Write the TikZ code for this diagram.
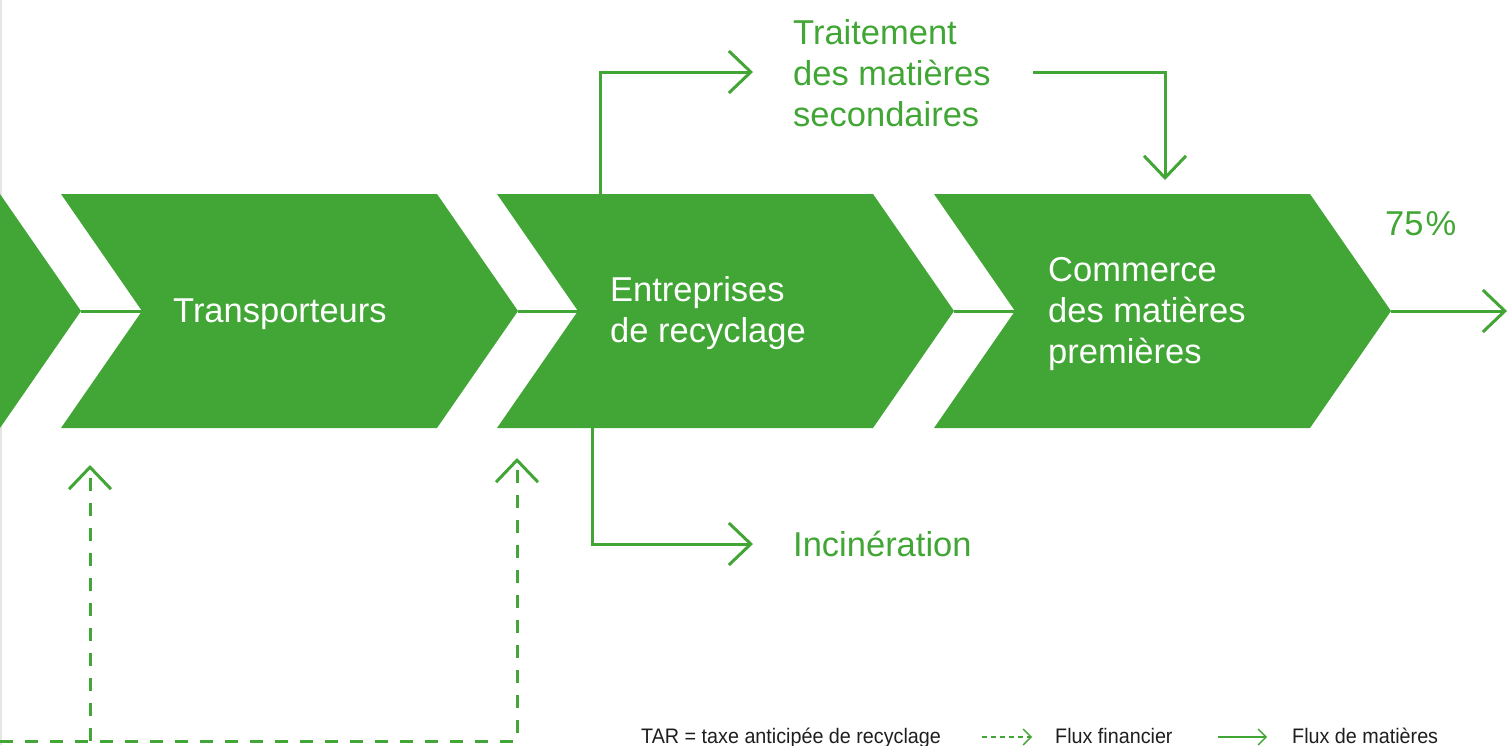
\documentclass[tikz,border=0pt]{standalone}
\usepackage{fontspec}
\usepackage{xcolor}
\usepackage{tikz}
\usetikzlibrary{arrows.meta}
\setmainfont{Liberation Sans}
\newfontfamily\legendfont[FakeStretch=0.94]{Liberation Sans}
\definecolor{recgreen}{RGB}{65,166,53}
\definecolor{legblack}{RGB}{30,30,30}

\begin{document}
\begin{tikzpicture}[x=1pt,y=-1pt,
  chevron/.style={fill=recgreen},
  boxtext/.style={text=white, font=\fontsize{34.5}{41}\selectfont, align=left, anchor=west, inner sep=0pt},
  outtext/.style={boxtext, text=recgreen},
  link/.style={draw=recgreen, line width=3pt},
  flow/.style={link, -{Straight Barb[length=22pt,width=42pt]}},
  finflow/.style={flow, dash pattern=on 13pt off 12pt},
  legtext/.style={text=legblack, font=\legendfont\fontsize{21}{24}\selectfont, anchor=base west, inner sep=0pt},
  legflow/.style={draw=recgreen, line width=1.3pt, -{Straight Barb[length=8pt,width=16pt]}}]
\useasboundingbox (0,0) rectangle (1509,745);
\draw[gray!20, line width=2pt] (1,0) -- (1,745);

% chevrons of the chain
\foreach \i/\x in {0/-376,1/61,2/497,3/934}{
  \fill[chevron] (\x,194) -- ++(376,0) -- ++(81,117) -- ++(-81,117) -- ++(-376,0) -- ++(81,-117) -- cycle;
  \coordinate (notch\i) at (\x+81,311);
  \coordinate (tip\i) at (\x+457,311);
}
\foreach \a/\b in {0/1,1/2,2/3}
  \draw[link] (tip\a) -- (notch\b);

\node[boxtext] (trans) at (173,314) {Transporteurs};
\node[boxtext] (rec) at (610,313) {Entreprises\\de recyclage};
\node[boxtext] (comm) at (1048,314) {Commerce\\des matières\\premières};
\node[outtext] (trait) at (793,73) {Traitement\\des matières\\secondaires};
\node[outtext] (incin) at (793,544) {Incinération};
\node[outtext] (pct) at (1385,224) {75\kern2pt\%};

% material flows
\coordinate (rec up) at (600,194);
\coordinate (rec down) at (592,428);
\coordinate (sec out) at (1033,72);
\coordinate (comm in) at (1165,180);
\coordinate (out) at (1507,311);
\draw[flow] (rec up) |- ([xshift=-40pt,yshift=1pt]trait.west);
\draw[flow] (sec out) -| (comm in);
\draw[flow] (rec down) |- ([xshift=-40pt]incin.west);
\draw[flow] (tip3) -- (out);

% financial flows
\coordinate (fin start) at (0,741);
\coordinate (fin split) at (90,741);
\coordinate (trans pay) at (90,465);
\coordinate (rec pay) at (517,458);
\draw[finflow] (fin start) -| (rec pay);
\draw[finflow] (fin split) -- (trans pay);

% legend
\node[legtext] (tar) at (641,743) {TAR = taxe anticipée de recyclage};
\node[legtext] (lfin) at (1055,743) {Flux financier};
\node[legtext] (lmat) at (1292,743) {Flux de matières};
\draw[legflow, dash pattern=on 5pt off 4pt] ([xshift=-73pt,yshift=6pt]lfin.base west) -- ([xshift=-23pt,yshift=6pt]lfin.base west);
\draw[legflow] ([xshift=-74pt,yshift=6pt]lmat.base west) -- ([xshift=-25pt,yshift=6pt]lmat.base west);
\end{tikzpicture}
\end{document}
